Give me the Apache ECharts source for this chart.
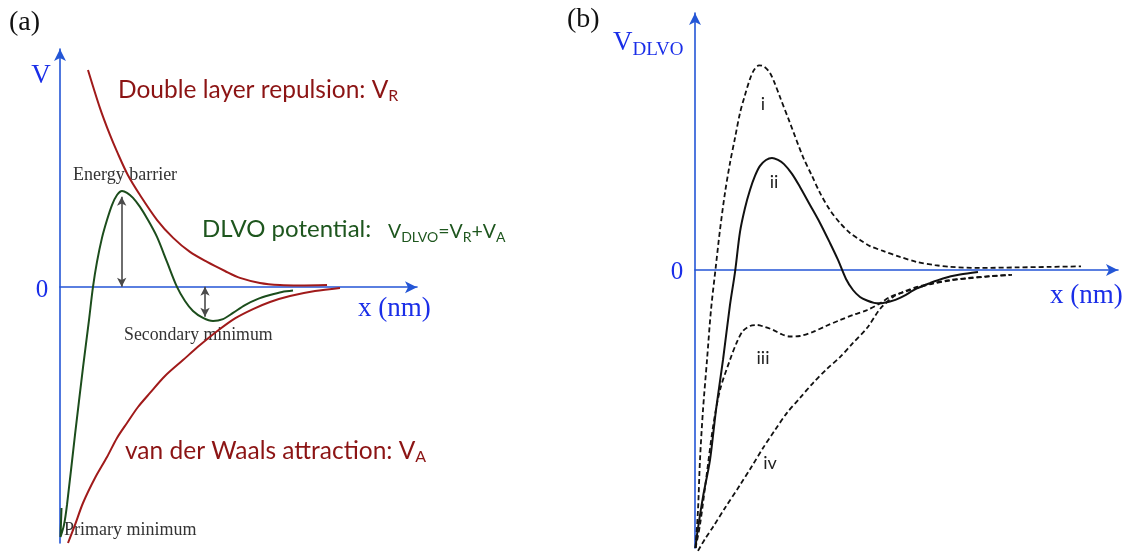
<!DOCTYPE html>
<html>
<head>
<meta charset="utf-8">
<script src="https://cdn.jsdelivr.net/npm/echarts@6/dist/echarts.min.js"></script>
<style>
  html, body { margin: 0; padding: 0; background: #fff; }
  #chart { width: 1126px; height: 554px; }
</style>
</head>
<body>
<div id="chart"></div>
<script>
// ---- Panel (a): potential components, x in arbitrary nm units, V in arbitrary energy units
const repulsionVR = [
  [0.784, 9.12], [1.12, 7.52], [1.40, 6.39], [1.60, 5.68], [1.90, 4.71], [2.24, 3.87],
  [2.72, 2.82], [3.17, 2.07], [3.64, 1.48], [4.12, 1.06], [4.62, 0.68], [5.04, 0.39],
  [5.60, 0.18], [6.16, 0.09], [6.72, 0.07], [7.48, 0.09]
];
const attractionVA = [
  [0.224, -10.74], [0.420, -9.98], [0.644, -9.06], [0.980, -8.01], [1.317, -7.13],
  [1.597, -6.33], [1.877, -5.70], [2.185, -5.03], [2.521, -4.44], [2.941, -3.73],
  [3.445, -3.06], [3.922, -2.43], [4.398, -1.85], [4.902, -1.31], [5.406, -0.92],
  [5.882, -0.62], [6.443, -0.37], [7.143, -0.16], [7.843, -0.03]
];
const dlvoTotal = [
  [0.042, -9.27], [0.014, -10.49], [0.112, -9.98], [0.196, -9.14], [0.420, -6.20],
  [0.644, -3.38], [0.812, -1.38], [0.924, 0.01], [1.036, 1.06], [1.176, 2.07],
  [1.316, 2.82], [1.456, 3.45], [1.597, 3.87], [1.737, 4.04], [1.877, 3.96],
  [2.045, 3.75], [2.241, 3.37], [2.465, 2.82], [2.717, 2.11], [2.997, 1.06],
  [3.277, 0.01], [3.501, -0.58], [3.725, -1.00], [4.006, -1.29], [4.286, -1.42],
  [4.566, -1.34], [4.846, -1.08], [5.182, -0.75], [5.546, -0.49], [5.882, -0.33],
  [6.218, -0.20], [6.527, -0.14]
];
// double-headed markers: [x, from V, to V]
const barrierArrow = [1.728, 3.80, 0.02];
const secondaryArrow = [4.062, 0.02, -1.24];

// ---- Panel (b): total DLVO potential for four cases
const curveI = [
  [0.012, -10.82], [0.071, -9.34], [0.118, -7.39], [0.189, -5.45], [0.284, -3.50],
  [0.378, -1.56], [0.496, 0.19], [0.591, 1.56], [0.709, 3.00], [0.827, 4.16],
  [0.946, 5.14], [1.064, 6.11], [1.182, 6.81], [1.300, 7.43], [1.395, 7.78],
  [1.513, 7.96], [1.631, 7.92], [1.773, 7.67], [1.891, 7.24], [2.009, 6.73],
  [2.246, 5.72], [2.553, 4.40], [2.766, 3.66], [2.955, 3.00], [3.191, 2.33],
  [3.428, 1.83], [3.664, 1.44], [3.901, 1.17], [4.137, 0.93], [4.444, 0.74],
  [4.846, 0.51], [5.248, 0.31], [5.674, 0.19], [6.028, 0.12], [6.738, 0.08],
  [7.612, 0.10], [8.392, 0.12], [9.125, 0.14]
];
const curveII = [
  [0.012, -10.82], [0.047, -10.31], [0.189, -8.83], [0.355, -7.39], [0.496, -5.45],
  [0.662, -3.50], [0.827, -1.36], [0.946, -0.08], [1.064, 1.48], [1.182, 2.41],
  [1.300, 3.11], [1.418, 3.66], [1.537, 4.05], [1.678, 4.28], [1.820, 4.36],
  [1.962, 4.28], [2.104, 4.12], [2.293, 3.74], [2.482, 3.23], [2.719, 2.53],
  [2.955, 1.83], [3.191, 1.05], [3.381, 0.39], [3.570, -0.35], [3.735, -0.78],
  [3.901, -1.05], [4.066, -1.19], [4.232, -1.28], [4.374, -1.30], [4.610, -1.23],
  [4.846, -1.09], [5.248, -0.72], [5.556, -0.51], [5.863, -0.33], [6.265, -0.18],
  [6.690, -0.08]
];
const curveIII = [
  [0.012, -10.82], [0.118, -9.92], [0.260, -8.17], [0.426, -6.11], [0.591, -4.67],
  [0.827, -3.50], [0.993, -2.80], [1.135, -2.37], [1.300, -2.18], [1.466, -2.14],
  [1.655, -2.22], [1.844, -2.33], [2.033, -2.49], [2.246, -2.59], [2.482, -2.57],
  [2.790, -2.41], [3.097, -2.18], [3.428, -1.95], [3.735, -1.75], [4.066, -1.56],
  [4.374, -1.30], [4.610, -1.05], [4.846, -0.91], [5.248, -0.70], [5.626, -0.53],
  [6.028, -0.41], [6.430, -0.33], [6.974, -0.25], [7.494, -0.19]
];
const curveIV = [
  [0.071, -10.93], [0.236, -10.47], [0.426, -10.00], [0.709, -9.26], [1.064, -8.37],
  [1.348, -7.63], [1.608, -6.93], [1.891, -6.23], [2.175, -5.56], [2.482, -4.98],
  [2.790, -4.40], [3.121, -3.85], [3.428, -3.39], [3.735, -2.84], [4.066, -2.26],
  [4.374, -1.52], [4.681, -1.05], [4.965, -0.82], [5.248, -0.66], [5.626, -0.51],
  [6.028, -0.39], [6.738, -0.27], [7.447, -0.19]
];
const curveNames = ['i', 'ii', 'iii', 'iv'];

const SERIF = '"Liberation Serif", "Times New Roman", serif';
const SANS = 'Lato, "Open Sans", sans-serif';
const AXIS_BLUE = '#2456d6';
const TEXT_BLUE = '#1a2ee8';
const RED = '#a01a1a';
const GREEN = '#1c4d1c';
const RED_TEXT = '#8c1414';
const GREEN_TEXT = '#1e561e';

const chart = echarts.init(document.getElementById('chart'), null, { renderer: 'canvas' });

// lay out a run of text pieces left to right, with optional baseline shift for subscripts
const measureCtx = document.createElement('canvas').getContext('2d');
function textRun(x, y, parts, family, color) {
  const out = [];
  let cx = x;
  parts.forEach(function (p) {
    const font = p[1] + 'px ' + family;
    measureCtx.font = font;
    out.push({
      type: 'text', x: cx, y: y + (p[2] || 0), silent: true,
      style: { text: p[0], font: font, fill: color, align: 'left', verticalAlign: 'middle',
               textAlign: 'left', textVerticalAlign: 'middle' }
    });
    cx += measureCtx.measureText(p[0]).width;
  });
  return out;
}
function label(x, y, text, size, family, color, align) {
  return {
    type: 'text', x: x, y: y, silent: true,
    style: { text: text, font: size + 'px ' + family, fill: color,
             align: align || 'left', verticalAlign: 'middle',
             textAlign: align || 'left', textVerticalAlign: 'middle' }
  };
}

function axisPair(gridIndex, yMin) {
  const line = {
    show: true, onZero: true, symbol: ['none', 'arrow'], symbolSize: [9, 12],
    lineStyle: { color: AXIS_BLUE, width: 1.6 }
  };
  return {
    x: { type: 'value', gridIndex: gridIndex, min: 0, max: 10, axisLine: line,
         axisTick: { show: false }, axisLabel: { show: false }, splitLine: { show: false } },
    y: { type: 'value', gridIndex: gridIndex, min: yMin, max: 10, axisLine: line,
         axisTick: { show: false }, axisLabel: { show: false }, splitLine: { show: false } }
  };
}
const axA = axisPair(0, -10.74);
const axB = axisPair(1, -10.82);

function curve(name, data, axisIndex, color, width, dashed, smooth) {
  return {
    name: name, type: 'line', data: data, xAxisIndex: axisIndex, yAxisIndex: axisIndex,
    symbol: 'none', smooth: smooth, clip: false, silent: true,
    lineStyle: { color: color, width: width, type: dashed ? [5, 3] : 'solid' }
  };
}

function doubleArrow(a) {
  return [{ coord: [a[0], a[1]] }, { coord: [a[0], a[2]] }];
}

const dlvoSeries = curve('DLVO', dlvoTotal, 0, GREEN, 2, false, 0.3);
dlvoSeries.markLine = {
  silent: true, symbol: ['arrow', 'arrow'], symbolSize: [7, 9],
  label: { show: false },
  lineStyle: { color: '#4a4a4a', width: 1.6, type: 'solid' },
  data: [doubleArrow(barrierArrow), doubleArrow(secondaryArrow)]
};

const graphics = [].concat(
  [
    label(9, 23, '(a)', 28, SERIF, '#111'),
    label(41, 76, 'V', 27, SERIF, TEXT_BLUE, 'center'),
    label(42, 290, '0', 25, SERIF, TEXT_BLUE, 'center'),
    label(358, 309, 'x (nm)', 27, SERIF, TEXT_BLUE),
    label(73, 175, 'Energy barrier', 18, SERIF, '#333'),
    label(124, 335, 'Secondary minimum', 17.8, SERIF, '#333'),
    label(64, 530, 'Primary minimum', 18, SERIF, '#333')
  ],
  textRun(118, 90, [['Double layer repulsion: V', 24.5], ['R', 16, 6]], SANS, RED_TEXT),
  textRun(202, 229, [['DLVO potential:', 24]], SANS, GREEN_TEXT),
  textRun(388, 232, [['V', 19.5], ['DLVO', 14, 5], ['=V', 19.5], ['R', 14, 5], ['+V', 19.5], ['A', 14, 5]], SANS, GREEN_TEXT),
  textRun(125, 451, [['van der Waals attraction: V', 24.5], ['A', 16, 6]], SANS, RED_TEXT),
  [
    label(567, 20, '(b)', 28, SERIF, '#111'),
    label(677, 272, '0', 25, SERIF, TEXT_BLUE, 'center'),
    label(1050, 296, 'x (nm)', 27, SERIF, TEXT_BLUE),
    label(763, 104, curveNames[0], 18, SANS, '#222', 'center'),
    label(774, 182, curveNames[1], 18, SANS, '#222', 'center'),
    label(763, 358, curveNames[2], 18, SANS, '#222', 'center'),
    label(770, 463, curveNames[3], 18, SANS, '#222', 'center')
  ],
  textRun(613, 43, [['V', 27], ['DLVO', 19, 7]], SERIF, TEXT_BLUE)
);

chart.setOption({
  animation: false,
  backgroundColor: '#ffffff',
  grid: [
    { left: 60, top: 49, width: 357, height: 494 },
    { left: 695, top: 13, width: 423, height: 535 }
  ],
  xAxis: [axA.x, axB.x],
  yAxis: [axA.y, axB.y],
  series: [
    curve('V_R', repulsionVR, 0, RED, 2, false, 0.3),
    curve('V_A', attractionVA, 0, RED, 2, false, 0.3),
    dlvoSeries,
    curve(curveNames[0], curveI, 1, '#111', 1.8, true, 0.3),
    curve(curveNames[1], curveII, 1, '#111', 2, false, 0.3),
    curve(curveNames[2], curveIII, 1, '#111', 1.8, true, 0.3),
    curve(curveNames[3], curveIV, 1, '#111', 1.8, true, 0.3)
  ],
  graphic: graphics
});
</script>
</body>
</html>
